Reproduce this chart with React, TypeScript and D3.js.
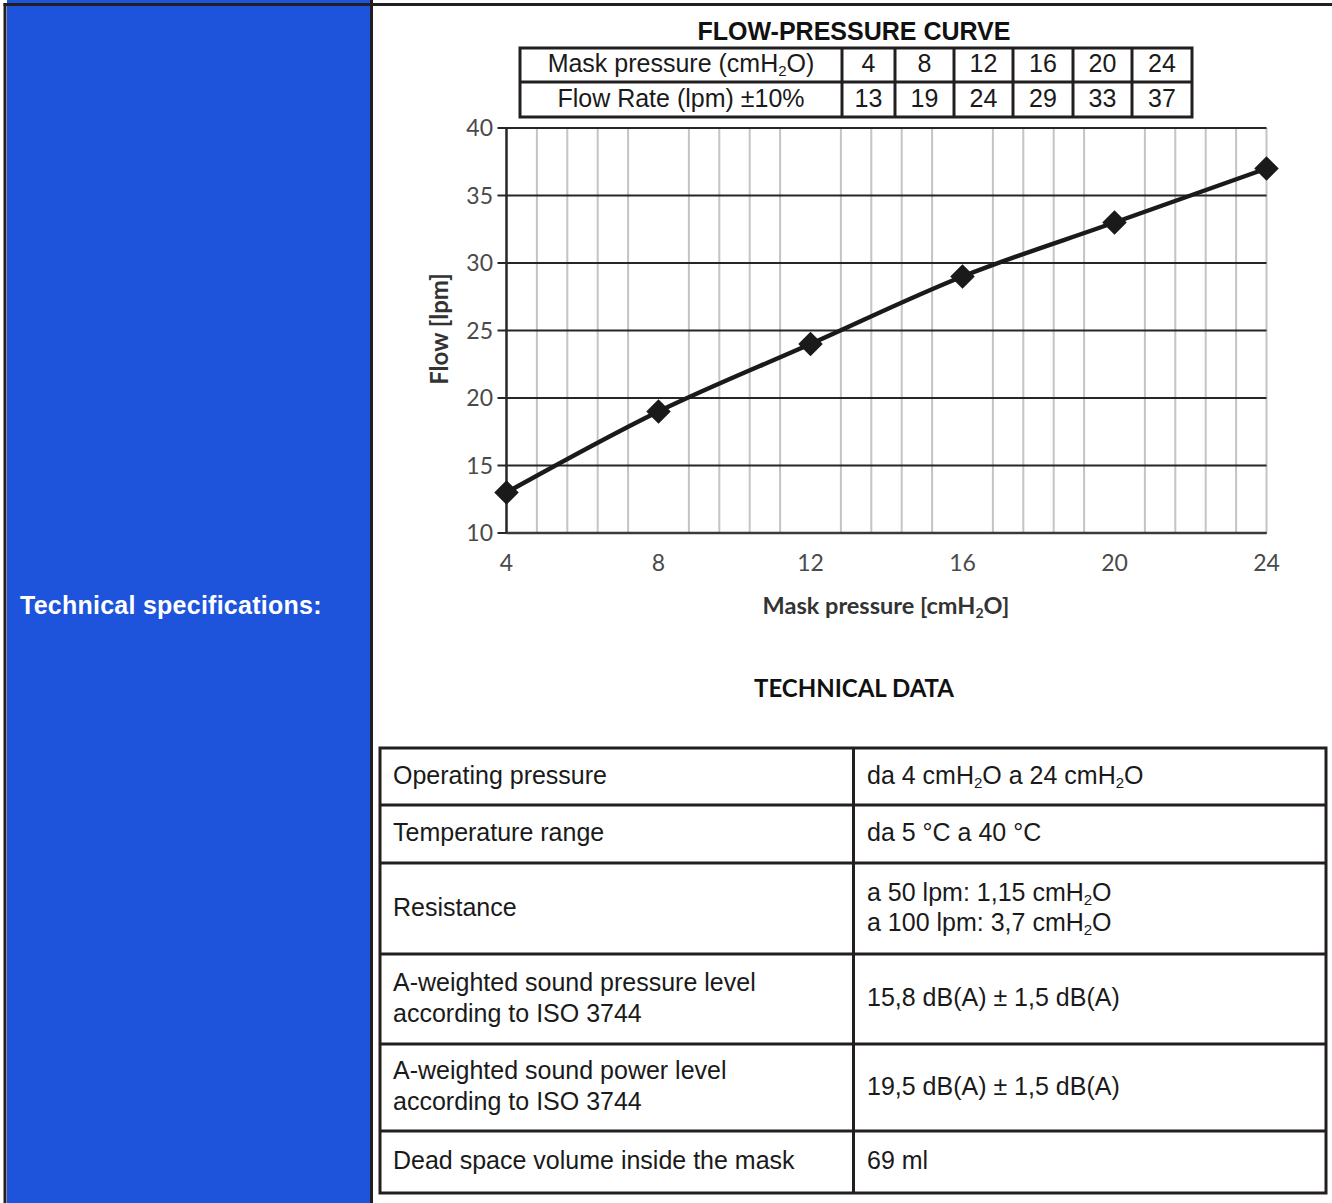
import React from 'react';
import * as d3 from 'd3';

// ---- data ----
const pressure = [4, 8, 12, 16, 20, 24];
const flowRate = [13, 19, 24, 29, 33, 37];
const xTickValues = [4, 8, 12, 16, 20, 24];
const yTickValues = [10, 15, 20, 25, 30, 35, 40];
const headerRowLabels = ['Mask pressure (cmH₂O)', 'Flow Rate (lpm) ±10%'];
const specLabels = [
  ['Operating pressure'],
  ['Temperature range'],
  ['Resistance'],
  ['A-weighted sound pressure level', 'according to ISO 3744'],
  ['A-weighted sound power level', 'according to ISO 3744'],
  ['Dead space volume inside the mask'],
];
const specValues = [
  ['da 4 cmH₂O a 24 cmH₂O'],
  ['da 5 °C a 40 °C'],
  ['a 50 lpm: 1,15 cmH₂O', 'a 100 lpm: 3,7 cmH₂O'],
  ['15,8 dB(A) ± 1,5 dB(A)'],
  ['19,5 dB(A) ± 1,5 dB(A)'],
  ['69 ml'],
];

// ---- layout ----
const W = 1332;
const H = 1203;
const BLUE = '#1e54dc';
const DARK = '#231f20';
const ARIAL = '"Liberation Sans", Arial, sans-serif';
const CAL = 'Lato, "Open Sans", sans-serif';

const plot = { left: 506.5, right: 1266.5, top: 128, bottom: 533 };
const headCols = [520, 842, 895, 954, 1013, 1073, 1132, 1192];
const headRows = [48, 82, 117];
const specRows = [748, 805, 863, 954, 1044, 1131, 1193];
const specCols = [380, 853.5, 1326];

function rich(s: string, fs: number, keyBase: string) {
  const parts = s.split('₂');
  const out: any[] = [];
  parts.forEach((p, i) => {
    if (i === 0) {
      out.push(<tspan key={keyBase + 'p' + i}>{p}</tspan>);
    } else {
      out.push(
        <tspan key={keyBase + 's' + i} fontSize={fs * 0.6} dy={fs * 0.16}>2</tspan>
      );
      out.push(
        <tspan key={keyBase + 'p' + i} dy={-fs * 0.16}>{p}</tspan>
      );
    }
  });
  return out;
}

export default function App() {
  const x = d3.scaleLinear().domain([4, 24]).range([plot.left, plot.right]);
  const y = d3.scaleLinear().domain([10, 40]).range([plot.bottom, plot.top]);
  const pts: [number, number][] = pressure.map((p, i) => [p, flowRate[i]]);
  const line = d3
    .line<[number, number]>()
    .x((d) => x(d[0]))
    .y((d) => y(d[1]))
    .curve(d3.curveCatmullRom.alpha(0.5));
  const diamond = d3.symbol().type(d3.symbolSquare).size(300)() as string;

  // minor vertical grid every 0.8 units (25 divisions), skipping the major tick positions
  const minor = d3.range(1, 26).map((k) => 4 + k * 0.8).filter((v, i) => (i + 1) % 5 !== 0 || i === 24);

  const fsT = 25;

  return (
    <svg
      width={W}
      height={H}
      viewBox={`0 0 ${W} ${H}`}
      style={{ position: 'absolute', left: 0, top: 0, background: '#fff' }}
    >
      {/* left blue panel */}
      <rect x={7} y={0} width={363} height={H} fill={BLUE} />
      <line x1={5} y1={3} x2={5} y2={H} stroke={DARK} strokeWidth={3} />
      <line x1={371.5} y1={0} x2={371.5} y2={H} stroke={DARK} strokeWidth={3} />
      <line x1={3.5} y1={4.5} x2={W} y2={4.5} stroke={DARK} strokeWidth={3} />
      <text x={20} y={614} fill="#fff" fontFamily={ARIAL} fontWeight="bold" fontSize={25} letterSpacing={0.25}>
        Technical specifications:
      </text>

      {/* chart title */}
      <text x={854} y={40} textAnchor="middle" fontFamily={ARIAL} fontWeight="bold" fontSize={25} fill="#111">
        FLOW-PRESSURE CURVE
      </text>

      {/* header table */}
      <g fontFamily={ARIAL} fontSize={fsT} fill="#1a1a1a">
        {headerRowLabels.map((lab, r) => (
          <text
            key={'hl' + r}
            x={(headCols[0] + headCols[1]) / 2}
            y={(headRows[r] + headRows[r + 1]) / 2 + 7}
            textAnchor="middle"
          >
            {rich(lab, fsT, 'hl' + r)}
          </text>
        ))}
        {pressure.map((p, i) => (
          <text key={'hp' + i} x={(headCols[i + 1] + headCols[i + 2]) / 2} y={(headRows[0] + headRows[1]) / 2 + 7} textAnchor="middle">
            {p}
          </text>
        ))}
        {flowRate.map((f, i) => (
          <text key={'hf' + i} x={(headCols[i + 1] + headCols[i + 2]) / 2} y={(headRows[1] + headRows[2]) / 2 + 7} textAnchor="middle">
            {f}
          </text>
        ))}
      </g>
      <g stroke={DARK} strokeWidth={3} fill="none">
        <rect x={headCols[0]} y={headRows[0]} width={headCols[7] - headCols[0]} height={headRows[2] - headRows[0]} />
        <line x1={headCols[0]} x2={headCols[7]} y1={headRows[1]} y2={headRows[1]} />
        {headCols.slice(1, 7).map((c, i) => (
          <line key={'hc' + i} x1={c} x2={c} y1={headRows[0]} y2={headRows[2]} />
        ))}
      </g>

      {/* chart grid */}
      <g>
        {minor.map((v, i) => (
          <line key={'mg' + i} x1={x(v)} x2={x(v)} y1={plot.top} y2={plot.bottom} stroke="#c4c4c4" strokeWidth={2} />
        ))}
        {yTickValues.map((t) => (
          <line key={'yg' + t} x1={plot.left - 9} x2={plot.right} y1={y(t)} y2={y(t)} stroke="#262626" strokeWidth={2} />
        ))}
        <line x1={plot.left} x2={plot.left} y1={plot.top} y2={plot.bottom} stroke="#262626" strokeWidth={2.5} />
        <line x1={plot.left} x2={plot.right} y1={plot.bottom} y2={plot.bottom} stroke="#3a3a3a" strokeWidth={2.5} />
      </g>

      {/* axes labels */}
      <g fontFamily={CAL} fontSize={23} fill="#4a4a4a">
        {yTickValues.map((t) => (
          <text key={'yt' + t} x={493} y={y(t) + 8} textAnchor="end">
            {t}
          </text>
        ))}
        {xTickValues.map((t) => (
          <text key={'xt' + t} x={x(t)} y={571} textAnchor="middle">
            {t}
          </text>
        ))}
      </g>
      <text
        transform="translate(448,329) rotate(-90)"
        textAnchor="middle"
        fontFamily={CAL}
        fontWeight="bold"
        fontSize={24}
        fill="#333"
      >
        Flow [lpm]
      </text>
      <text x={886} y={614} textAnchor="middle" fontFamily={CAL} fontWeight="bold" fontSize={23.5} fill="#333">
        {rich('Mask pressure [cmH₂O]', 23.5, 'xa')}
      </text>

      {/* series */}
      <path d={line(pts) as string} fill="none" stroke="#1a1a1a" strokeWidth={4.5} />
      {pts.map((d, i) => (
        <path
          key={'m' + i}
          d={diamond}
          transform={`translate(${x(d[0])},${y(d[1])}) rotate(45)`}
          fill="#1a1a1a"
        />
      ))}

      {/* technical data */}
      <text x={854} y={697} textAnchor="middle" fontFamily={CAL} fontWeight="bold" fontSize={24} fill="#111">
        TECHNICAL DATA
      </text>
      <g fontFamily={ARIAL} fontSize={fsT} fill="#1a1a1a">
        {specLabels.map((lines, r) => {
          const cy = (specRows[r] + specRows[r + 1]) / 2;
          const lh = 31;
          const y0 = cy - ((lines.length - 1) * lh) / 2 + 7;
          return lines.map((ln, j) => (
            <text key={'sl' + r + j} x={393} y={y0 + j * lh}>
              {rich(ln, fsT, 'sl' + r + j)}
            </text>
          ));
        })}
        {specValues.map((lines, r) => {
          const cy = (specRows[r] + specRows[r + 1]) / 2;
          const lh = 30;
          const y0 = cy - ((lines.length - 1) * lh) / 2 + 7;
          return lines.map((ln, j) => (
            <text key={'sv' + r + j} x={867} y={y0 + j * lh}>
              {rich(ln, fsT, 'sv' + r + j)}
            </text>
          ));
        })}
      </g>
      <g stroke={DARK} strokeWidth={3} fill="none">
        <rect x={specCols[0]} y={specRows[0]} width={specCols[2] - specCols[0]} height={specRows[6] - specRows[0]} />
        {specRows.slice(1, 6).map((r, i) => (
          <line key={'sr' + i} x1={specCols[0]} x2={specCols[2]} y1={r} y2={r} />
        ))}
        <line x1={specCols[1]} x2={specCols[1]} y1={specRows[0]} y2={specRows[6]} />
      </g>
    </svg>
  );
}
